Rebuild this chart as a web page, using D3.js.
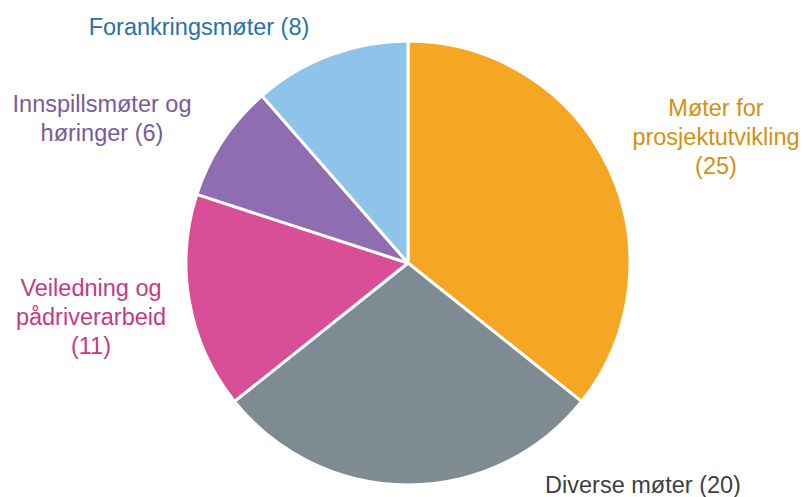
<!DOCTYPE html>
<html>
<head>
<meta charset="utf-8">
<script src="https://cdn.jsdelivr.net/npm/d3@7"></script>
<style>
  body { margin: 0; background: #fff; }
  svg text { font-family: "Liberation Sans", Arial, sans-serif; font-size: 23.5px; }
</style>
</head>
<body>
<div id="chart"></div>
<script>
// data
const categories = ["Møter for prosjektutvikling", "Diverse møter", "Veiledning og pådriverarbeid", "Innspillsmøter og høringer", "Forankringsmøter"];
const values = [25, 20, 11, 6, 8];
const labelLines = [
    ["Møter for", "prosjektutvikling", "(25)"],
    ["Diverse møter (20)"],
    ["Veiledning og", "pådriverarbeid", "(11)"],
    ["Innspillsmøter og", "høringer (6)"],
    ["Forankringsmøter (8)"]
];

const sliceColors = ["#f5a623", "#7f8b92", "#d84f97", "#8e6db0", "#8ec4ea"];
const textColors = ["#d68f12", "#3f3f3f", "#c43a84", "#7a5a9c", "#2b71a8"];

// label anchor points (centre of first baseline)
const labelPos = [[716, 116], [643, 493], [91, 296], [102, 112], [199, 35]];

const width = 803, height = 497;
const cx = 408, cy = 263, radius = 222;

const svg = d3.select("#chart").append("svg")
    .attr("width", width)
    .attr("height", height);

const pie = d3.pie().sort(null).value(d => d);
const arc = d3.arc().innerRadius(0).outerRadius(radius);

const g = svg.append("g").attr("transform", `translate(${cx},${cy})`);

g.selectAll("path")
    .data(pie(values))
    .enter()
    .append("path")
    .attr("d", arc)
    .attr("fill", (d, i) => sliceColors[i])
    .attr("stroke", "#fff")
    .attr("stroke-width", 3)
    .attr("stroke-linejoin", "round");

const lineH = 29;
const labels = svg.selectAll(".lbl")
    .data(categories)
    .enter()
    .append("text")
    .attr("class", "lbl")
    .attr("text-anchor", "middle")
    .attr("fill", (d, i) => textColors[i]);

labels.each(function(d, i) {
    const t = d3.select(this);
    labelLines[i].forEach((line, j) => {
        t.append("tspan")
            .attr("x", labelPos[i][0])
            .attr("y", labelPos[i][1] + j * lineH)
            .text(line);
    });
});
</script>
</body>
</html>
